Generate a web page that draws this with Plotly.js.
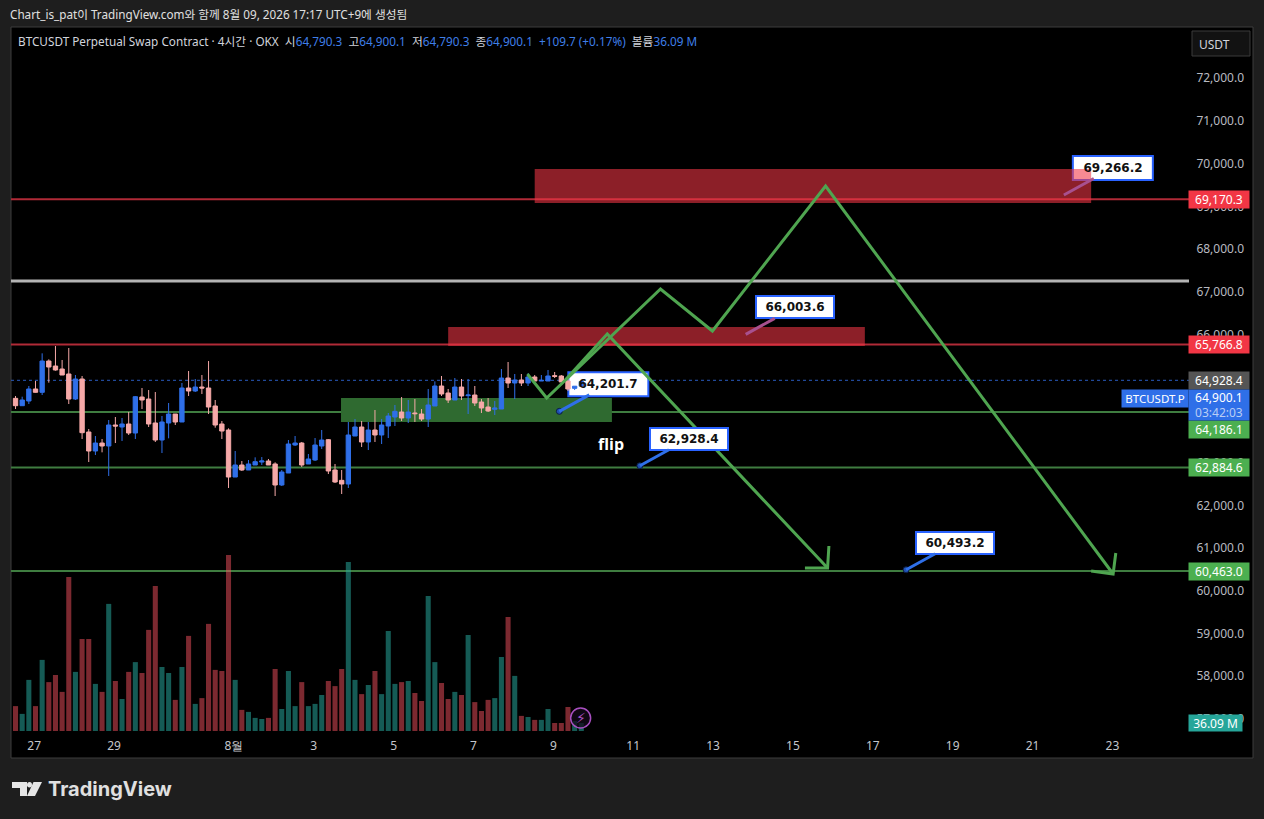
<!DOCTYPE html>
<html><head><meta charset="utf-8">
<script src="https://cdn.plot.ly/plotly-3.0.1.min.js"></script>
<style>html,body{margin:0;padding:0;background:#1e1e1e;overflow:hidden}#c{width:1264px;height:819px}</style>
</head><body><div id="c"></div>
<script>
const opens=[64506,64334,64444,64725,64647,65380,65263,65193,65076,64490,64959,63718,63273,63460,63390,63882,63835,63905,63694,64537,64490,63929,63530,63929,64139,63952,64748,64678,64771,64748,64327,63905,63765,62664,62945,62828,62945,63015,63039,62969,62477,62758,63413,63460,62969,63062,63390,63538,62828,62586,62500,63624,63835,63484,63765,63648,63858,64069,64186,64046,64163,64139,64022,64327,64795,64631,64467,64771,64569,64584,64420,64303,64249,64256,64982,64865,64935,64865,65006,64912,64912,65037,65029,64912,64740,64790.3];
const highs=[64561,64545,64795,64912,65560,65419,65732,65404,65685,65052,65029,63788,63624,63554,63999,64069,64046,64186,64561,64748,64701,64654,64092,64397,64139,64865,65146,64959,65052,65380,64467,63975,63804,63273,63039,63062,63125,63132,63086,63008,62828,63530,63624,63484,63203,63577,63765,63554,62969,62828,63952,64022,63975,63952,64233,64022,64163,64350,64537,64467,64490,64256,64725,64904,65029,64725,64982,64959,64959,64795,64490,64514,64444,65193,65357,65076,65076,65091,65052,65052,65170,65123,65052,65006,64790,64900.1];
const lows=[64256,64334,64373,64639,64584,64873,65154,65052,64373,64467,63554,63015,63179,63242,62688,63460,63507,63648,63554,64256,63835,63484,63226,63570,63882,63952,64561,64654,64608,64139,63819,63554,62407,62664,62805,62828,62945,62945,62945,62219,62453,62758,63390,62898,62969,63039,63320,62734,62524,62266,62407,63624,63367,63296,63484,63437,63577,63858,63975,63929,63952,63975,63835,64327,64561,64397,64467,64467,64139,64327,64163,64186,64116,64256,64748,64490,64795,64795,64912,64912,64912,64982,64889,64678,64701,64790.3];
const closes=[64334,64467,64725,64647,65380,65240,65170,65052,64490,64959,63702,63273,63460,63390,63882,63858,63905,63694,64545,64467,63905,63530,63952,64139,63952,64748,64678,64771,64748,64303,63882,63741,62664,62945,62828,62969,63023,63039,62945,62477,62781,63437,63460,62945,63086,63413,63530,62805,62547,62500,63648,63835,63484,63765,63648,63882,64092,64202,64046,64186,64147,64022,64350,64795,64608,64467,64771,64561,64584,64397,64280,64210,64280,64982,64865,64935,64865,65006,64912,64928,65029,65021,64889,64725,64790.3,64900.1];
const volumes=[112,77,230,112,320,220,252,176,693,266,414,414,212,176,572,225,144,266,310,261,455,653,288,261,140,288,428,122,148,482,275,270,792,230,95,86,59,54,59,279,99,270,112,220,112,122,162,225,202,279,760,230,166,207,270,166,450,212,220,225,171,135,608,310,216,144,176,162,432,130,90,140,148,333,513,248,68,63,50,50,99,36,36,108,45,36.09];
const barIndex=opens.map((_,i)=>i);

const timeTickVals=[2.8,14.8,32.8,44.8,56.8,68.8,80.8,92.8,104.8,116.8,128.8,140.8,152.8,164.8];
const timeTickText=['27','29','8월','3','5','7','9','11','13','15','17','19','21','23'];
const priceTicks=[57000,58000,59000,60000,61000,62000,63000,65000,66000,67000,68000,69000,70000,71000,72000];

const redLevels=[69170.3,65766.8];
const greenLevels=[64186.1,62884.6,60463.0];
const whiteLevel=67254;
const lastPrice=64928.4;

const resistanceZones=[[78.0,161.6,69080,69876],[65.0,127.6,65732,66177]];
const supportZone=[48.9,89.6,63952,64514];

const pathAx=[76.9,79.8,96.9,104.7,121.7,164.9];
const pathAy=[65076,64514,67066,66083,69478,60393];
const headAx=[165.3,164.9,161.6];
const headAy=[60885,60393,60464];
const pathBx=[82.6,88.9,122.0];
const pathBy=[64936,66013,60534];
const headBx=[122.2,122.0,118.6];
const headBy=[61049,60534,60534];

const calloutText=['69,266.2','66,003.6','64,201.7','62,928.4','60,493.2'];
const calloutX=[157.5,109.7,81.7,93.8,133.8];
const calloutY=[69266.2,66003.6,64201.7,62928.4,60493.2];
const calloutTail=['#a8508f','#a8508f','#2f6fe8','#2f6fe8','#2f6fe8'];
const calloutUnder=[true,false,true,false,false];

const tagText=['69,170.3','65,766.8','64,928.4','64,186.1','62,884.6','60,463.0'];
const tagPrice=[69170.3,65766.8,64928.4,64186.1,62884.6,60463.0];
const tagColor=['#f23645','#f23645','#555555','#4caf50','#4caf50','#4caf50'];
const tagShift=[0,0,0,-17,0,0];

const W=1264,H=819,L=11,R=1189,T=27,B=731;
const px=x=>(x-L)/(R-L), py=y=>(B-y)/(B-T);
const UI='"Noto Sans","Noto Sans CJK KR",sans-serif';
const TAG='"Noto Sans",sans-serif';
const GRN='#4fa550';

const shapes=[];
shapes.push({type:'rect',xref:'paper',yref:'paper',x0:0,x1:px(1253),y0:py(758),y1:1,fillcolor:'#000',line:{color:'#3c3c3c',width:1},layer:'below'});
shapes.push({type:'rect',xref:'paper',yref:'paper',x0:px(1192),x1:px(1250),y0:py(56),y1:py(31),fillcolor:'#121212',line:{color:'#3a3a3a',width:1},layer:'below'});
calloutText.forEach((t,i)=>{ if(calloutUnder[i]) shapes.push({type:'rect',xref:'x',yref:'y',xsizemode:'pixel',ysizemode:'pixel',xanchor:calloutX[i],yanchor:calloutY[i],x0:9,x1:89,y0:15,y1:39,fillcolor:'#fff',line:{color:'#2962ff',width:2},layer:'below'}); });
resistanceZones.forEach(z=>shapes.push({type:'rect',xref:'x',yref:'y',x0:z[0],x1:z[1],y0:z[2],y1:z[3],fillcolor:'rgba(242,54,69,0.58)',line:{width:0},layer:'below'}));
shapes.push({type:'rect',xref:'x',yref:'y',x0:supportZone[0],x1:supportZone[1],y0:supportZone[2],y1:supportZone[3],fillcolor:'#2f6a30',line:{width:0},layer:'below'});
redLevels.forEach(v=>shapes.push({type:'line',xref:'paper',yref:'y',x0:0,x1:1,y0:v,y1:v,line:{color:'#b02a37',width:2},layer:'below'}));
greenLevels.forEach(v=>shapes.push({type:'line',xref:'paper',yref:'y',x0:0,x1:1,y0:v,y1:v,line:{color:'#3f7d40',width:2},layer:'below'}));
shapes.push({type:'line',xref:'paper',yref:'y',x0:0,x1:1,y0:whiteLevel,y1:whiteLevel,line:{color:'#b4b4b4',width:3},layer:'below'});
shapes.push({type:'line',xref:'paper',yref:'y',x0:0,x1:1,y0:lastPrice,y1:lastPrice,line:{color:'#2a5cc0',width:1,dash:'dot'},layer:'below'});
const poly=p=>'M'+p.map(q=>px(q[0])+','+py(q[1])).join('L')+'Z';
[[[12,782],[27,782],[27,796],[20,796],[20,788],[12,788]],[[33.5,782],[42,782],[35,796],[27,796]]].forEach(p=>shapes.push({type:'path',xref:'paper',yref:'paper',path:poly(p),fillcolor:'#e6e6e6',line:{width:0}}));
shapes.push({type:'circle',xref:'paper',yref:'paper',x0:px(27),x1:px(32),y0:py(787.5),y1:py(782),fillcolor:'#e6e6e6',line:{width:0}});

const ann=[];
const B1='#d1d4dc',BL='#3f7fe8';
ann.push({xref:'paper',yref:'paper',x:px(8),y:py(14),xanchor:'left',yanchor:'middle',showarrow:false,text:'Chart_is_pat이 TradingView.com와 함께 8월 09, 2026 17:17 UTC+9에 생성됨',font:{family:UI,size:11.7,color:'#e0e0e0'}});
const s=(c,t)=>`<span style="color:${c}">${t}</span>`;
ann.push({xref:'paper',yref:'paper',x:px(16),y:py(41),xanchor:'left',yanchor:'middle',showarrow:false,
 text:s(B1,'BTCUSDT Perpetual Swap Contract · 4시간 · OKX  ')+s(B1,'시')+s(BL,'64,790.3  ')+s(B1,'고')+s(BL,'64,900.1  ')+s(B1,'저')+s(BL,'64,790.3  ')+s(B1,'종')+s(BL,'64,900.1  +109.7 (+0.17%)  ')+s(B1,'볼륨')+s(BL,'36.09 M'),
 font:{family:UI,size:11.75,color:B1}});
ann.push({xref:'paper',yref:'paper',x:px(1214),y:py(44),xanchor:'center',yanchor:'middle',showarrow:false,text:'USDT',font:{family:TAG,size:12,color:'#d1d4dc'}});
ann.push({xref:'paper',yref:'paper',x:px(46),y:py(789),xanchor:'left',yanchor:'middle',showarrow:false,text:'<b>TradingView</b>',font:{family:'"Inter",sans-serif',size:20,color:'#e0e0e0'}});
tagText.forEach((t,i)=>ann.push({xref:'paper',yref:'y',x:px(1219),y:tagPrice[i],yshift:tagShift[i],xanchor:'center',yanchor:'middle',showarrow:false,text:t,width:60,height:17,borderpad:0,bgcolor:tagColor[i],font:{family:TAG,size:12,color:'#fff'}}));
ann.push({xref:'paper',yref:'y',x:px(1219),y:64900.1,yshift:-23,xanchor:'center',yanchor:'middle',showarrow:false,text:'64,900.1<br><span style="color:#b9cdf5">03:42:03</span>',width:60,height:30,borderpad:0,bgcolor:'#2f6fe8',font:{family:TAG,size:12,color:'#fff'}});
ann.push({xref:'paper',yref:'y',x:px(1155),y:64900.1,yshift:-17,xanchor:'center',yanchor:'middle',showarrow:false,text:'BTCUSDT.P',width:66,height:17,borderpad:0,bgcolor:'#2f6fe8',font:{family:TAG,size:11.5,color:'#fff'}});
ann.push({xref:'paper',yref:'y2',x:px(1215.5),y:volumes[85],xanchor:'center',yanchor:'middle',showarrow:false,text:'36.09 M',width:53,height:16,borderpad:0,bgcolor:'#26a69a',font:{family:TAG,size:12,color:'#fff'}});
calloutText.forEach((t,i)=>{
 const a={xref:'x',yref:'y',x:calloutX[i],y:calloutY[i],axref:'pixel',ayref:'pixel',ax:49,ay:-27,showarrow:true,arrowhead:0,arrowwidth:3,arrowcolor:calloutTail[i],text:'<b>'+t+'</b>',width:76,height:20,borderpad:0,font:{family:'"DejaVu Sans",sans-serif',size:12,color:'#111'}};
 if(!calloutUnder[i]){a.bgcolor='#fff';a.bordercolor='#2962ff';a.borderwidth=2;}
 ann.push(a);
});
ann.push({xref:'x',yref:'y',x:89.4,y:63437,showarrow:false,text:'<b>flip</b>',font:{family:'"Open Sans",sans-serif',size:16,color:'#fff'}});
ann.push({xref:'x',yref:'y2',x:84.9,y:58.5,showarrow:false,text:'⚡',font:{family:'"DejaVu Sans",sans-serif',size:14,color:'#a84fc0'}});

const traces=[
 {type:'bar',x:barIndex,y:volumes,yaxis:'y2',width:0.76,marker:{color:closes.map((c,i)=>c>=opens[i]?'rgba(38,166,154,0.55)':'rgba(247,82,95,0.5)'),line:{width:0}},hoverinfo:'skip'},
 {type:'scatter',mode:'lines',x:pathAx,y:pathAy,line:{color:GRN,width:3},hoverinfo:'skip'},
 {type:'scatter',mode:'lines',x:headAx,y:headAy,line:{color:GRN,width:3},hoverinfo:'skip'},
 {type:'scatter',mode:'lines',x:pathBx,y:pathBy,line:{color:GRN,width:3},hoverinfo:'skip'},
 {type:'scatter',mode:'lines',x:headBx,y:headBy,line:{color:GRN,width:3},hoverinfo:'skip'},
 {type:'candlestick',x:barIndex,open:opens,high:highs,low:lows,close:closes,whiskerwidth:0,
  increasing:{line:{color:'#2f6fe8',width:1},fillcolor:'#2f6fe8'},decreasing:{line:{color:'#f6a9a8',width:1},fillcolor:'#f6a9a8'},hoverinfo:'skip'},
 {type:'scatter',mode:'markers',x:calloutX.slice(2),y:calloutY.slice(2),marker:{size:6,color:'#1f50b0',line:{color:'#0b1d44',width:1}},hoverinfo:'skip'},
 {type:'scatter',mode:'markers',x:[84.9],y:[58.5],yaxis:'y2',marker:{symbol:'circle',size:20,color:'rgba(20,10,25,0.75)',line:{color:'#a84fc0',width:1.5}},hoverinfo:'skip'}
];

const layout={width:W,height:H,margin:{l:L,r:W-R,t:T,b:H-B},paper_bgcolor:'#1e1e1e',plot_bgcolor:'#000',showlegend:false,boxgap:0.35,boxgroupgap:0,
 xaxis:{type:'linear',range:[-0.68,176.3],tickmode:'array',tickvals:timeTickVals,ticktext:timeTickText,showgrid:false,zeroline:false,showline:false,ticks:'outside',ticklen:4,tickcolor:'rgba(0,0,0,0)',tickfont:{family:TAG,size:12,color:'#c4c6cc'},rangeslider:{visible:false}},
 yaxis:{range:[56717,73201],side:'right',tickmode:'array',tickvals:priceTicks,tickformat:',.1f',showgrid:false,zeroline:false,showline:false,ticks:'outside',ticklen:4,tickcolor:'rgba(0,0,0,0)',tickfont:{family:TAG,size:12,color:'#b8bac0'}},
 yaxis2:{range:[0,3168],overlaying:'y',side:'right',visible:false},
 shapes:shapes,annotations:ann,hovermode:false};
Plotly.newPlot('c',traces,layout,{displayModeBar:false,staticPlot:true});
</script></body></html>
